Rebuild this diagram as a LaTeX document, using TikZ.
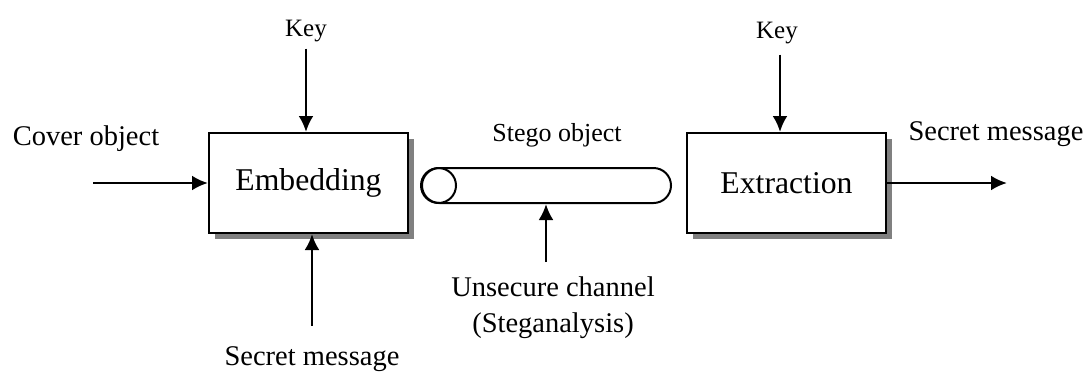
\documentclass[tikz,border=0pt]{standalone}
\usepackage{fontspec}
\setmainfont{Liberation Serif}
\usetikzlibrary{positioning,shapes.misc,shadows,arrows.meta}

\begin{document}
\begin{tikzpicture}[x=1pt, y=-1pt, >={Latex[length=16pt,width=15pt]},
                    box/.style={draw, line width=2pt, fill=white,
                                minimum width=199pt, minimum height=100pt,
                                font=\fontsize{31.7}{36}\selectfont,
                                drop shadow={shadow xshift=6pt, shadow yshift=-6pt,
                                             fill=black!50, opacity=1}},
                    lbl/.style={inner sep=0pt, font=\fontsize{28.5}{36}\selectfont},
                    small/.style={inner sep=0pt, font=\fontsize{25}{30}\selectfont},
                    arr/.style={->, line width=2.8pt}]
  \useasboundingbox (0,0) rectangle (1089,373);
  % blocks
  \node[box] (embed) at (308.5,183) {Embedding};
  \node[box] (extract) at (786.5,183) {Extraction};
  \node[draw, rounded rectangle, line width=2pt, minimum width=249pt,
        minimum height=35pt, inner sep=0pt] (channel) at (546.5,185.5) {};
  \draw[line width=2pt] ([xshift=17.5pt]channel.west) circle (17.5pt);
  % labels
  \node[small, anchor=base] (keyA) at (306,36) {Key};
  \node[small, anchor=base] (keyB) at (777,38) {Key};
  \node[lbl, anchor=base] (cover) at (86,145) {Cover object};
  \node[lbl, anchor=base, font=\fontsize{26}{30}\selectfont] (stego) at (557,141) {Stego object};
  \node[lbl, anchor=base] (msgA) at (312,365) {Secret message};
  \node[lbl, anchor=base] (msgB) at (996,140) {Secret message};
  \node[lbl, anchor=north, align=center] (unsec) at (553,277) {Unsecure channel\\(Steganalysis)};
  \coordinate (coverin) at (93,183);
  \coordinate (msgout) at (1007,183);
  % arrows
  \draw[arr] (coverin) -- (embed.west);
  \draw[arr] (extract.east) -- (msgout);
  \draw[arr] ([yshift=-7pt]keyA.south) -- (keyA.south |- embed.north);
  \draw[arr] ([xshift=3pt,yshift=-11pt]keyB.south) -- ([xshift=3pt]keyB.south |- extract.north);
  \draw[arr] ([yshift=20pt]msgA.north) -- (msgA.north |- embed.south);
  \draw[arr] ([xshift=-7pt,yshift=15pt]unsec.north) -- ([xshift=-7pt]unsec.north |- channel.south);
\end{tikzpicture}
\end{document}
